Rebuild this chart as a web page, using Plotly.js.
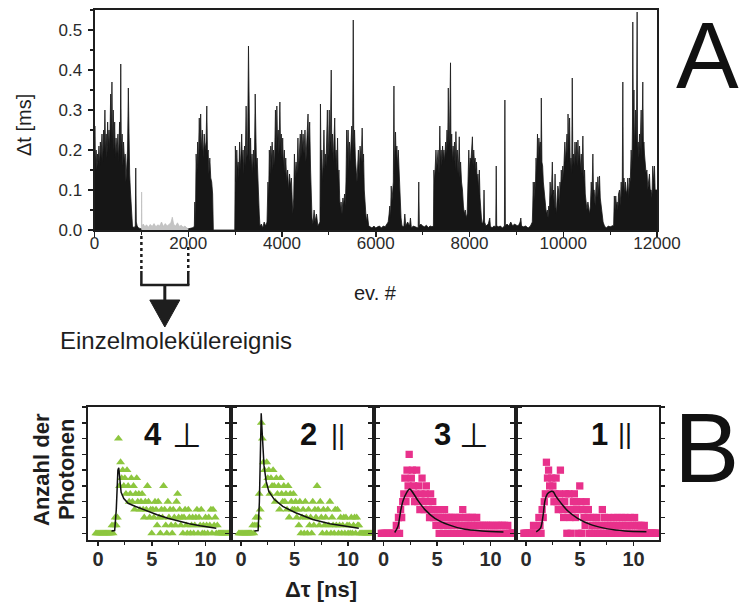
<!DOCTYPE html>
<html>
<head>
<meta charset="utf-8">
<script src="https://cdn.plot.ly/plotly-3.0.1.min.js"></script>
<style>
  html, body { margin: 0; padding: 0; background: #fff; }
  #chart { width: 741px; height: 603px; }
</style>
</head>
<body>
<div id="chart"></div>
<script>
// ---------- Panel A: Δt [ms] per event number, [event, Δt] pairs ----------
const burst1 = [[0,0.17],[8,0.26],[20,0.16],[35,0.2],[50,0.15],[65,0.19],[80,0.17],[95,0.21],[110,0.16],[125,0.22],[140,0.18],[160,0.24],[175,0.17],[195,0.25],[210,0.2],[222,0.3],[235,0.19],[250,0.24],[265,0.18],[280,0.27],[295,0.21],[310,0.25],[325,0.2],[345,0.34],[358,0.22],[372,0.37],[385,0.21],[400,0.3],[415,0.2],[430,0.27],[445,0.18],[460,0.23],[480,0.19],[500,0.24],[515,0.17],[535,0.27],[548,0.18],[560,0.415],[572,0.2],[590,0.24],[605,0.16],[620,0.22],[640,0.17],[655,0.19],[670,0.12],[690,0.17],[705,0.2],[722,0.355],[735,0.18],[750,0.14],[765,0.1],[780,0.07],[795,0.02],[810,0.01],[840,0.005],[870,0.01],[880,0.155],[892,0.02],[910,0.01],[940,0.005],[970,0.004],[995,0.003]];
const singleMolecule = [[1000,0.003],[1005,0.095],[1012,0.01],[1040,0.015],[1075,0.008],[1110,0.013],[1150,0.007],[1190,0.014],[1230,0.009],[1270,0.016],[1310,0.008],[1350,0.013],[1390,0.01],[1430,0.02],[1470,0.009],[1510,0.016],[1550,0.01],[1590,0.014],[1630,0.018],[1660,0.032],[1690,0.014],[1730,0.01],[1770,0.018],[1810,0.009],[1850,0.012],[1890,0.007],[1930,0.01],[1970,0.005],[2000,0.003]];
const burst2 = [[2000,0.003],[2040,0.004],[2080,0.005],[2110,0.006],[2130,0.01],[2140,0.07],[2152,0.01],[2168,0.19],[2185,0.14],[2200,0.22],[2215,0.16],[2235,0.28],[2250,0.2],[2265,0.29],[2280,0.2],[2300,0.25],[2320,0.18],[2340,0.24],[2360,0.2],[2380,0.22],[2396,0.31],[2410,0.19],[2425,0.2],[2440,0.14],[2460,0.18],[2480,0.13],[2500,0.12],[2520,0.09],[2535,0],[2800,0],[2992,0]];
const burst3 = [[3005,0.21],[3020,0.12],[3035,0.2],[3050,0.15],[3065,0.17],[3080,0.13],[3095,0.22],[3110,0.15],[3125,0.19],[3140,0.24],[3155,0.17],[3170,0.2],[3185,0.14],[3200,0.21],[3215,0.16],[3235,0.31],[3250,0.18],[3265,0.2],[3285,0.46],[3298,0.2],[3315,0.17],[3330,0.23],[3345,0.15],[3360,0.19],[3375,0.14],[3390,0.2],[3410,0.15],[3428,0.34],[3440,0.2],[3455,0.16],[3470,0.18],[3485,0.12],[3500,0.08],[3515,0.04],[3530,0.01],[3560,0.015],[3590,0.005],[3620,0.02],[3650,0.01],[3680,0.02]];
const burst4 = [[3700,0.12],[3715,0.08],[3730,0.2],[3745,0.14],[3760,0.21],[3775,0.17],[3790,0.22],[3805,0.15],[3820,0.2],[3840,0.16],[3860,0.3],[3875,0.2],[3890,0.31],[3905,0.22],[3920,0.25],[3935,0.19],[3955,0.32],[3970,0.2],[3985,0.24],[4000,0.18],[4015,0.23],[4030,0.16],[4050,0.2],[4065,0.14],[4080,0.18],[4100,0.12],[4120,0.15],[4140,0.1],[4160,0.14],[4180,0.11],[4200,0.13],[4215,0.06],[4230,0.04],[4250,0.08],[4265,0.19],[4280,0.13],[4300,0.17],[4320,0.14],[4340,0.23],[4355,0.15],[4370,0.19],[4390,0.24],[4405,0.18],[4420,0.25],[4435,0.2],[4450,0.24],[4470,0.19],[4490,0.25],[4510,0.17],[4530,0.22],[4555,0.29],[4570,0.2],[4590,0.27],[4610,0.15],[4625,0.08],[4640,0.03],[4660,0.015],[4685,0.05],[4705,0.02],[4735,0.04],[4765,0.01],[4795,0.02]];
const burst5 = [[4810,0.02],[4820,0.315],[4835,0.15],[4850,0.2],[4865,0.12],[4880,0.17],[4895,0.25],[4910,0.15],[4925,0.19],[4940,0.16],[4955,0.22],[4968,0.3],[4980,0.18],[4995,0.22],[5008,0.3],[5020,0.2],[5035,0.26],[5050,0.4],[5062,0.2],[5078,0.24],[5092,0.17],[5108,0.22],[5125,0.28],[5140,0.17],[5155,0.2],[5170,0.15],[5185,0.23],[5200,0.12],[5215,0.15],[5230,0.08],[5245,0.05],[5260,0.07],[5280,0.04],[5300,0.08],[5315,0.06],[5335,0.09],[5350,0.06],[5365,0.12],[5380,0.25],[5395,0.18],[5410,0.25],[5425,0.15],[5440,0.22],[5455,0.17],[5470,0.2],[5488,0.26],[5505,0.19],[5520,0.525],[5532,0.2],[5548,0.25],[5565,0.18],[5580,0.15],[5600,0.12],[5615,0.16],[5630,0.2],[5648,0.14],[5665,0.21],[5690,0.17],[5710,0.255],[5725,0.17],[5740,0.19],[5755,0.1],[5770,0.08],[5785,0.06],[5800,0.02],[5820,0.04],[5850,0.01],[5880,0.008],[5920,0.005],[5960,0.01],[6000,0.005],[6040,0.008],[6080,0.01],[6120,0.005],[6160,0.01],[6200,0.008],[6240,0.015]];
const burst6 = [[6265,0.02],[6285,0.04],[6300,0.06],[6315,0.03],[6330,0.11],[6345,0.07],[6360,0.1],[6375,0.12],[6388,0.36],[6398,0.14],[6410,0.2],[6422,0.245],[6435,0.18],[6450,0.21],[6465,0.16],[6480,0.2],[6495,0.15],[6510,0.12],[6525,0.08],[6540,0.03],[6560,0.01],[6600,0.008],[6620,0.04],[6640,0.01],[6680,0.02],[6720,0.01],[6740,0.03],[6760,0.005],[6800,0.01],[6840,0.008],[6905,0.005],[6918,0.12],[6930,0.01],[6960,0.015],[7000,0.01],[7040,0.008],[7080,0.012],[7120,0.006],[7160,0.01],[7200,0.008],[7230,0.01]];
const burst7 = [[7240,0.15],[7255,0.12],[7270,0.16],[7285,0.2],[7300,0.15],[7315,0.17],[7330,0.2],[7350,0.14],[7367,0.26],[7380,0.17],[7395,0.2],[7410,0.16],[7425,0.21],[7440,0.18],[7455,0.2],[7470,0.17],[7490,0.22],[7505,0.19],[7520,0.25],[7535,0.2],[7548,0.355],[7560,0.21],[7575,0.25],[7595,0.418],[7605,0.2],[7620,0.24],[7635,0.17],[7650,0.21],[7665,0.18],[7680,0.22],[7695,0.15],[7710,0.246],[7725,0.17],[7740,0.2],[7755,0.14],[7770,0.18],[7782,0.233],[7795,0.13],[7810,0.17],[7830,0.12],[7850,0.1],[7870,0.06],[7890,0.04],[7910,0.05],[7930,0.03],[7950,0.04],[7968,0.15],[7985,0.2],[8000,0.14],[8015,0.18],[8030,0.17],[8045,0.2],[8062,0.233],[8075,0.16],[8090,0.2],[8105,0.17],[8120,0.18],[8135,0.15],[8150,0.17],[8165,0.12],[8180,0.14],[8195,0.1],[8210,0.15],[8225,0.08],[8240,0.04],[8260,0.02],[8280,0.015],[8300,0.03],[8310,0.1],[8322,0.02],[8350,0.01],[8400,0.015],[8432,0.03],[8445,0.01],[8480,0.005],[8520,0.01],[8560,0.008],[8570,0.16],[8580,0.01],[8620,0.008],[8660,0.01],[8700,0.005],[8745,0.01],[8755,0.325],[8765,0.01],[8800,0.015],[8840,0.01],[8880,0.02],[8920,0.01],[8960,0.015],[9000,0.012],[9040,0.01],[9080,0.02],[9095,0.03],[9110,0.01],[9150,0.008],[9200,0.01],[9250,0.005],[9300,0.01],[9340,0.02]];
const burst8 = [[9350,0.06],[9360,0.12],[9375,0.07],[9390,0.12],[9405,0.1],[9420,0.18],[9435,0.14],[9450,0.24],[9465,0.18],[9480,0.23],[9495,0.2],[9510,0.22],[9520,0.15],[9532,0.33],[9545,0.17],[9560,0.16],[9575,0.12],[9590,0.1],[9605,0.08],[9620,0.05],[9640,0.04],[9660,0.05],[9675,0.03],[9690,0.06],[9705,0.05],[9720,0.12],[9735,0.08],[9750,0.1],[9767,0.17],[9780,0.09],[9795,0.1],[9810,0.05],[9825,0.14],[9840,0.06],[9855,0.04],[9870,0.08],[9885,0.11],[9900,0.1],[9915,0.06],[9930,0.12],[9945,0.1],[9958,0.15],[9972,0.12],[9990,0.16],[10005,0.13],[10020,0.18],[10035,0.22],[10050,0.17],[10065,0.2],[10080,0.24],[10095,0.17],[10102,0.29],[10115,0.2],[10135,0.28],[10150,0.15],[10165,0.18],[10180,0.14],[10192,0.38],[10205,0.16],[10220,0.19],[10235,0.16],[10250,0.22],[10265,0.17],[10280,0.22],[10295,0.16],[10313,0.225],[10330,0.17],[10348,0.21],[10365,0.15],[10384,0.19],[10400,0.14],[10419,0.235],[10435,0.13],[10455,0.15],[10470,0.09],[10490,0.07],[10505,0.05],[10526,0.07],[10545,0.04],[10561,0.04],[10580,0.06],[10597,0.12],[10612,0.08],[10632,0.19],[10645,0.1],[10660,0.1],[10680,0.06],[10703,0.12],[10720,0.08],[10739,0.133],[10755,0.09],[10774,0.135],[10790,0.08],[10810,0.06],[10830,0.03],[10850,0.02],[10880,0.01],[10920,0.005],[10960,0.01],[11000,0.008],[11040,0.01],[11075,0.012]];
const burst9 = [[11090,0.085],[11105,0.05],[11120,0.085],[11135,0.06],[11150,0.07],[11165,0.05],[11180,0.09],[11200,0.1],[11215,0.06],[11236,0.12],[11250,0.08],[11260,0.13],[11271,0.37],[11282,0.1],[11295,0.13],[11310,0.09],[11325,0.12],[11342,0.09],[11360,0.1],[11378,0.13],[11395,0.08],[11413,0.13],[11430,0.12],[11449,0.2],[11465,0.15],[11477,0.26],[11484,0.52],[11495,0.25],[11508,0.35],[11520,0.2],[11540,0.3],[11555,0.22],[11565,0.3],[11576,0.545],[11585,0.2],[11600,0.22],[11615,0.18],[11626,0.24],[11640,0.2],[11650,0.25],[11662,0.3],[11675,0.18],[11685,0.24],[11697,0.37],[11710,0.2],[11720,0.22],[11733,0.19],[11750,0.16],[11768,0.14],[11785,0.15],[11804,0.1],[11820,0.12],[11839,0.14],[11855,0.1],[11875,0.1],[11892,0.08],[11910,0.16],[11928,0.12],[11946,0.16],[11960,0.1],[11981,0.1],[12000,0.1]];

// Marked single-molecule event range (ev. #)
const eventRange = [1000, 2000];

// ---------- Panel B: photon-arrival histograms (0.1 ns channels) ----------
const tBins = [-0.2,-0.1,
  0,0.1,0.2,0.3,0.4,0.5,0.6,0.7,0.8,0.9,
  1,1.1,1.2,1.3,1.4,1.5,1.6,1.7,1.8,1.9,
  2,2.1,2.2,2.3,2.4,2.5,2.6,2.7,2.8,2.9,
  3,3.1,3.2,3.3,3.4,3.5,3.6,3.7,3.8,3.9,
  4,4.1,4.2,4.3,4.4,4.5,4.6,4.7,4.8,4.9,
  5,5.1,5.2,5.3,5.4,5.5,5.6,5.7,5.8,5.9,
  6,6.1,6.2,6.3,6.4,6.5,6.6,6.7,6.8,6.9,
  7,7.1,7.2,7.3,7.4,7.5,7.6,7.7,7.8,7.9,
  8,8.1,8.2,8.3,8.4,8.5,8.6,8.7,8.8,8.9,
  9,9.1,9.2,9.3,9.4,9.5,9.6,9.7,9.8,9.9,
  10,10.1,10.2,10.3,10.4,10.5,10.6,10.7,10.8,10.9,
  11,11.1,11.2,11.3,11.4,11.5,11.6,11.7,11.8,11.9,
  12,12.1,12.2];
const counts4perp = [0,0,
  0,0,0,0,0,0,0,0,0,0,
  0,0,0,1,0,1,2,1,2,12,
  6,9,7,8,6,7,5,8,6,4,
  5,7,4,6,3,5,7,4,5,3,
  4,5,3,2,4,3,6,4,2,3,
  0,3,2,4,3,1,4,2,0,3,
  2,6,3,1,0,4,2,3,1,0,
  3,2,1,4,5,2,3,1,2,0,
  2,3,1,0,3,2,0,1,2,0,
  1,2,3,0,2,1,3,0,1,0,
  2,1,0,2,1,3,0,3,1,2,
  0,1,0,0,0,0,0,0,0,0,
  0,0,0];
const counts2par = [0,0,
  0,0,0,0,0,0,0,0,0,0,
  0,1,0,1,2,1,2,5,3,14,
  12,9,8,6,9,7,8,5,7,6,
  8,6,4,7,5,6,3,7,5,4,
  6,4,5,3,6,2,5,4,3,5,
  3,4,2,3,1,4,0,2,3,0,
  4,2,0,3,1,2,0,4,1,3,
  2,6,3,1,4,2,0,3,1,2,
  0,3,1,4,0,2,1,0,3,1,
  3,0,1,2,0,1,2,0,2,1,
  0,1,0,2,0,1,2,0,2,1,
  1,0,0,0,0,0,0,0,0,0,
  0,0,0];
const counts3perp = [0,0,
  0,0,0,0,0,0,0,0,0,0,
  0,0,1,0,2,0,3,2,4,5,
  7,4,8,6,10,5,7,8,6,4,
  5,8,4,6,3,5,7,4,3,5,
  6,3,4,2,5,3,4,2,3,1,
  3,2,0,3,1,2,0,3,1,2,
  0,2,1,0,2,1,0,2,1,0,
  1,2,0,1,3,0,1,2,0,1,
  2,0,1,2,0,1,0,2,1,0,
  1,0,1,0,1,0,1,0,1,0,
  1,0,1,0,0,1,0,1,0,1,
  0,1,0,1,0,0,1,0,0,0,
  0,0,0];
const counts1par = [0,0,
  0,0,0,0,0,0,0,1,0,0,
  0,0,2,1,0,3,2,4,5,9,
  7,8,6,5,7,6,4,5,7,4,
  3,5,8,4,3,2,4,5,0,3,
  5,2,0,3,4,5,2,4,3,0,
  6,4,0,3,2,1,4,2,3,0,
  2,0,1,2,0,1,2,0,1,0,
  1,3,0,2,1,0,1,2,0,1,
  0,1,2,0,1,2,0,1,0,2,
  1,0,2,1,0,1,0,2,0,1,
  1,2,0,1,0,1,0,1,0,0,
  1,0,0,0,0,0,0,0,0,0,
  0,0,0];

// Fitted decay curves
const fit4perpT = [1.25,1.55,1.7,1.85,1.93,2.0,2.15,2.4,2.8,3.5,4.5,5.5,6.5,7.5,8.5,9.5,10.5,11.0];
const fit4perpY = [0.3,0.35,3,8.0,8.3,7.0,5.2,4.4,3.8,3.4,2.85,2.35,1.9,1.55,1.2,0.95,0.75,0.65];
const fit2parT  = [1.25,1.6,1.72,1.82,1.89,1.95,2.05,2.15,2.35,2.6,3.1,3.9,5.1,6.7,8.3,9.6,11.0];
const fit2parY  = [0.3,0.35,4,11,15.2,13.5,10.5,8.6,6.6,5.3,4.3,3.4,2.6,1.75,1.2,0.9,0.65];
const fit3perpT = [1.05,1.35,1.6,1.82,2.14,2.45,2.77,3.24,3.87,4.8,6.1,7.6,9.2,11.2];
const fit3perpY = [0.1,0.85,2.8,4.1,5.1,5.6,5.1,4.1,3.0,1.9,1.07,0.5,0.3,0.17];
const fit1parT  = [0.95,1.35,1.6,1.76,2.0,2.3,2.55,2.77,3.24,3.87,4.8,6.1,7.6,9.2,11.2];
const fit1parY  = [0.17,0.64,2.35,4.1,5.0,5.3,5.25,4.7,3.85,2.86,1.9,1.07,0.56,0.3,0.2];

const panelLabels = [
  {num: '4', sym: '⊥'},
  {num: '2', sym: '||'},
  {num: '3', sym: '⊥'},
  {num: '1', sym: '||'}
];

// ---------- layout helpers (page pixels -> paper fractions) ----------
const W = 741, H = 603;
const fx = v => v / W;
const fy = v => 1 - v / H;
const FONT = 'Liberation Sans, Arial, Helvetica, sans-serif';
const INK = '#1e1e1e';

// Panel A frame in page pixels
const A = {l: 94.5, r: 657, t: 10, b: 230};
const xRangeA = [0, 12000];
const evToPx = ev => A.l + (ev - xRangeA[0]) / (xRangeA[1] - xRangeA[0]) * (A.r - A.l);

const blackPts = [].concat(burst1, burst2, burst3, burst4, burst5, burst6, burst7, burst8, burst9);

const traces = [];
traces.push({
  x: blackPts.map(p => p[0]), y: blackPts.map(p => p[1]),
  type: 'scatter', mode: 'lines', fill: 'tozeroy',
  line: {color: '#161616', width: 0.8}, fillcolor: '#161616',
  xaxis: 'x', yaxis: 'y', hoverinfo: 'skip'
});
traces.push({
  x: singleMolecule.map(p => p[0]), y: singleMolecule.map(p => p[1]),
  type: 'scatter', mode: 'lines', fill: 'tozeroy',
  line: {color: '#bcbcbc', width: 0.7}, fillcolor: '#c4c4c4',
  xaxis: 'x', yaxis: 'y', hoverinfo: 'skip'
});

// Panel B traces
const panelData = [
  {counts: counts4perp, sym: 'triangle-up', size: 7.8, color: '#8dc63f', fitT: fit4perpT, fitY: fit4perpY, shape: 'linear'},
  {counts: counts2par,  sym: 'triangle-up', size: 7.8, color: '#8dc63f', fitT: fit2parT,  fitY: fit2parY,  shape: 'linear'},
  {counts: counts3perp, sym: 'square',      size: 7.3, color: '#e8318b', fitT: fit3perpT, fitY: fit3perpY, shape: 'spline'},
  {counts: counts1par,  sym: 'square',      size: 7.3, color: '#e8318b', fitT: fit1parT,  fitY: fit1parY,  shape: 'spline'}
];
panelData.forEach((p, i) => {
  const n = i + 2;
  traces.push({
    x: tBins, y: p.counts, type: 'scatter', mode: 'markers',
    marker: {symbol: p.sym, size: p.size, color: p.color, line: {width: 0}},
    xaxis: 'x' + n, yaxis: 'y' + n, hoverinfo: 'skip'
  });
  traces.push({
    x: p.fitT, y: p.fitY, type: 'scatter', mode: 'lines',
    line: {color: '#111', width: 1.5, shape: p.shape, smoothing: 0.8},
    xaxis: 'x' + n, yaxis: 'y' + n, hoverinfo: 'skip'
  });
});

const layout = {
  width: W, height: H,
  margin: {l: 0, r: 0, t: 0, b: 0},
  paper_bgcolor: '#fff', plot_bgcolor: 'rgba(0,0,0,0)',
  showlegend: false,
  font: {family: FONT, color: INK},
  xaxis: {
    domain: [fx(A.l), fx(A.r)], range: xRangeA, anchor: 'y',
    dtick: 2000, tick0: 0, tickformat: 'd', ticks: 'outside', ticklen: 5, tickwidth: 1.5, tickcolor: INK,
    minor: {dtick: 1000, tick0: 0, ticks: 'outside', ticklen: 3, tickwidth: 1.2, tickcolor: INK},
    showline: true, linewidth: 2, linecolor: INK, mirror: true,
    showgrid: false, zeroline: false,
    tickfont: {family: FONT, size: 17, color: '#2a2a2a'}, ticklabelstandoff: -8
  },
  yaxis: {
    domain: [fy(A.b), fy(A.t)], range: [0, 0.55], anchor: 'x',
    dtick: 0.1, tick0: 0, tickformat: '.1f', ticks: 'outside', ticklen: 5, tickwidth: 1.5, tickcolor: INK,
    minor: {dtick: 0.05, tick0: 0, ticks: 'outside', ticklen: 3, tickwidth: 1.2, tickcolor: INK},
    showline: true, linewidth: 2, linecolor: INK, mirror: true,
    showgrid: false, zeroline: false,
    tickfont: {family: FONT, size: 17, color: '#2a2a2a'}, ticklabelstandoff: 2
  },
  annotations: [],
  shapes: []
};

// Panel B axes
const B = {t: 407, b: 540};
const panelEdges = [88, 231, 373.5, 516, 659];
panelEdges.slice(0, 4).forEach((l, i) => {
  const n = i + 2;
  const r = panelEdges[i + 1];
  layout['xaxis' + n] = {
    domain: [fx(l), fx(r)], range: [-0.93, 12.37], anchor: 'y' + n,
    tickvals: [0, 5, 10], ticks: 'outside', ticklen: 4, tickwidth: 1.5, tickcolor: INK,
    minor: {dtick: 2.5, tick0: 0, ticks: 'outside', ticklen: 3, tickwidth: 1.2, tickcolor: INK},
    showline: true, linewidth: 2, linecolor: INK, mirror: true,
    showgrid: false, zeroline: false,
    tickfont: {family: FONT, size: 20, weight: 700, color: '#2a2a2a'}, ticklabelstandoff: -4
  };
  layout['yaxis' + n] = {
    domain: [fy(B.b), fy(B.t)], range: [-0.85, 16], anchor: 'x' + n,
    dtick: 2, tick0: 0, ticks: 'outside', ticklen: 4, tickwidth: 1.5, tickcolor: INK,
    showticklabels: false,
    showline: true, linewidth: 2, linecolor: INK, mirror: 'allticks',
    showgrid: false, zeroline: false
  };
});

// Text
const ann = (text, x, y, opts) => Object.assign({
  text, x: fx(x), y: fy(y), xref: 'paper', yref: 'paper',
  showarrow: false, xanchor: 'center', yanchor: 'middle',
  font: {family: FONT, size: 18, color: INK}
}, opts || {});

layout.annotations.push(ann('Δt [ms]', 24, 125, {textangle: -90, font: {family: FONT, size: 20, color: INK}}));
layout.annotations.push(ann('ev. #', 375, 293, {font: {family: FONT, size: 20, color: INK}}));
layout.annotations.push(ann('A', 741, 55, {xanchor: 'right', font: {family: FONT, size: 94, color: '#111'}}));
layout.annotations.push(ann('Einzelmolekülereignis', 176, 340, {font: {family: FONT, size: 24, color: INK}}));
layout.annotations.push(ann('B', 741, 448, {xanchor: 'right', font: {family: FONT, size: 98, color: '#111'}}));
layout.annotations.push(ann('Anzahl der', 41, 470, {textangle: -90, font: {family: FONT, size: 22, weight: 700, color: INK}}));
layout.annotations.push(ann('Photonen', 66, 470, {textangle: -90, font: {family: FONT, size: 22, weight: 700, color: INK}}));
layout.annotations.push(ann('Δτ [ns]', 321, 589, {font: {family: FONT, size: 22, weight: 700, color: INK}}));

const numPos = [[152.5, 434], [308, 434], [442, 434], [599, 434]];
const symPos = [[187, 435], [337.5, 435], [474, 435], [625, 434]];
panelLabels.forEach((lab, i) => {
  layout.annotations.push(ann(lab.num, numPos[i][0], numPos[i][1], {font: {family: FONT, size: 31, weight: 700, color: '#111'}}));
  const symFont = lab.sym === '⊥'
    ? {family: 'DejaVu Sans', size: 34, color: '#111'}
    : {family: FONT, size: 27, color: '#111'};
  layout.annotations.push(ann(lab.sym, symPos[i][0], symPos[i][1], {font: symFont}));
});

// Bracket marking the single-molecule stretch, with arrow
const bx0 = evToPx(eventRange[0]);
const bx1 = evToPx(eventRange[1]);
const bmid = (bx0 + bx1) / 2;
const line = (x0, y0, x1, y1, extra) => Object.assign({
  type: 'line', xref: 'paper', yref: 'paper',
  x0: fx(x0), y0: fy(y0), x1: fx(x1), y1: fy(y1),
  line: {color: INK, width: 2.5}
}, extra || {});
layout.shapes.push(line(bx0, 236, bx0, 272, {line: {color: INK, width: 2.5, dash: 'dot'}}));
layout.shapes.push(line(bx1, 247, bx1, 272, {line: {color: INK, width: 2.5, dash: 'dot'}}));
layout.shapes.push(line(bx0, 271, bx0, 285));
layout.shapes.push(line(bx1, 271, bx1, 285));
layout.shapes.push(line(bx0 - 1.2, 285, bx1 + 1.2, 285));
layout.shapes.push(line(bmid, 285, bmid, 302, {line: {color: INK, width: 3}}));
layout.shapes.push({
  type: 'path', xref: 'paper', yref: 'paper',
  path: `M ${fx(bmid - 15)} ${fy(300)} L ${fx(bmid + 15)} ${fy(300)} L ${fx(bmid)} ${fy(327)} Z`,
  fillcolor: INK, line: {color: INK, width: 1}
});

Plotly.newPlot('chart', traces, layout, {displayModeBar: false, staticPlot: true});
</script>
</body>
</html>
